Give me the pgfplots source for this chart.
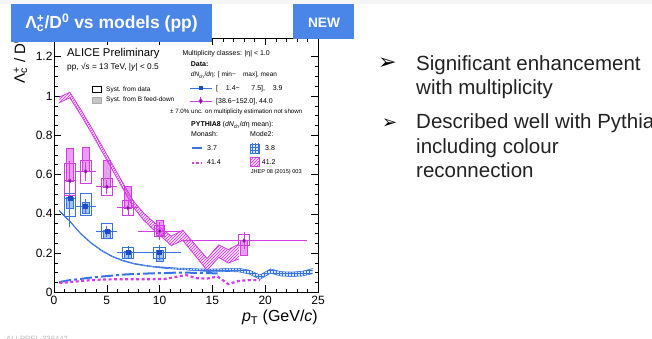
\documentclass[border=0pt]{standalone}
\usepackage{pgfplots}
\pgfplotsset{compat=1.18}
\usepackage{pgfplotstable}
\usepgfplotslibrary{fillbetween}
\usetikzlibrary{patterns}
\usepackage{fontspec}
\setmainfont{Liberation Sans}
\newfontfamily\dejavu{DejaVu Sans}
\newcommand{\fs}[1]{\fontsize{#1}{#1}\selectfont}

\definecolor{mag}{RGB}{212,60,232}
\definecolor{magdark}{RGB}{120,20,140}
\definecolor{blu}{RGB}{55,115,228}
\definecolor{bludark}{RGB}{30,75,200}
\definecolor{slideblue}{RGB}{74,134,232}
\definecolor{txt}{RGB}{34,34,34}

\pgfdeclareplotmark{blank}{}

% low multiplicity data: x, y, x-err minus/plus, stat, syst lo/hi, B-feed-down lo/hi, box half width
\pgfplotstableread{
x y xm xp st slo shi flo fhi sw
1.5 0.478 0.5 0.5 0.145 0.388 0.502 0.427 0.487 0.55
3 0.437 1 1 0.040 0.393 0.502 0.402 0.461 0.53
5 0.310 1 1 0.028 0.275 0.350 0.275 0.317 0.53
7 0.202 1 1 0.032 0.173 0.229 0.173 0.207 0.53
10 0.205 2 2 0.038 0.173 0.229 0.156 0.215 0.55
}\lowtab

\pgfplotstableread{
x y xm xp st slo shi flo fhi sw
1.5 0.568 0.5 0.5 0.100 0.495 0.656 0.568 0.733 0.55
3 0.616 1 1 0.050 0.555 0.673 0.616 0.741 0.53
5 0.537 1 1 0.035 0.495 0.580 0.537 0.673 0.53
7 0.430 1 1 0.040 0.393 0.466 0.430 0.540 0.53
10 0.312 2 2 0.045 0.283 0.342 0.292 0.368 0.5
18 0.263 6 6 0.042 0.237 0.297 0.190 0.266 0.55
}\hightab

% PYTHIA8 Mode2, 41.2 (centre, half width)
\pgfplotstableread{
x c h
0.5 0.980 0.014
1.5 1.005 0.014
2.5 0.920 0.014
3.5 0.830 0.014
4.5 0.735 0.014
5.5 0.640 0.014
6.5 0.545 0.015
7.5 0.450 0.016
8.5 0.385 0.018
9.5 0.335 0.020
10.5 0.290 0.022
11.1 0.262 0.024
12.2 0.290 0.026
14.5 0.142 0.030
15.6 0.210 0.032
16.5 0.183 0.034
17.5 0.208 0.038
}\magband

% PYTHIA8 Mode2, 3.8
\pgfplotstableread{
x c h
0.5 0.415 0.002
1.5 0.362 0.002
2.5 0.300 0.002
3.5 0.252 0.002
4.5 0.213 0.002
5.5 0.183 0.002
6.5 0.162 0.002
7.5 0.147 0.002
8.5 0.137 0.002
9.5 0.130 0.002
10.5 0.125 0.003
11.5 0.121 0.003
12.5 0.118 0.004
13.5 0.115 0.005
14.5 0.112 0.006
15.5 0.112 0.007
16.5 0.114 0.008
17.5 0.113 0.009
18.5 0.103 0.010
19.5 0.077 0.011
20.5 0.108 0.011
21.5 0.094 0.011
22.5 0.092 0.011
23.5 0.095 0.012
24.5 0.108 0.013
}\bluband

\begin{document}
\begin{tikzpicture}
\path (0pt,0pt) rectangle (652pt,339pt);
\fill[gray!7] (0pt,335pt) rectangle (652pt,339pt);

\begin{axis}[
  at={(54pt,46.7pt)}, anchor=south west,
  width=264pt, height=254pt, scale only axis,
  xmin=0, xmax=25, ymin=0, ymax=1.294,
  xtick={0,5,10,15,20,25},
  ytick={0,0.2,0.4,0.6,0.8,1,1.2},
  minor x tick num=4, minor y tick num=3,
  tick align=inside,
  major tick length=7pt, minor tick length=3.5pt,
  tick style={black, line width=0.5pt},
  axis line style={line width=0.7pt},
  ticklabel style={font=\fs{12}},
  /pgf/number format/assume math mode=true,
  yticklabel style={xshift=2pt},
  clip=true,
]
% Mode2 bands
\addplot[name path=mu, draw=mag, line width=0.8pt] table[x=x, y expr=\thisrow{c}+\thisrow{h}] {\magband};
\addplot[name path=ml, draw=mag, line width=0.8pt] table[x=x, y expr=\thisrow{c}-\thisrow{h}] {\magband};
\addplot[fill=mag!18, draw=none] fill between[of=mu and ml];
\addplot[pattern=north east lines, pattern color=mag, draw=none] fill between[of=mu and ml];
\addplot[name path=bu, draw=blu, line width=0.6pt] table[x=x, y expr=\thisrow{c}+\thisrow{h}] {\bluband};
\addplot[name path=bl, draw=blu, line width=0.6pt] table[x=x, y expr=\thisrow{c}-\thisrow{h}] {\bluband};
\addplot[fill=blu!18, draw=none] fill between[of=bu and bl];
\addplot[pattern=grid, pattern color=blu, draw=none] fill between[of=bu and bl];

% Monash lines
\addplot[blu, line width=2pt, dash pattern=on 12pt off 3pt on 3pt off 3pt] coordinates {
(0.5,0.052) (1.5,0.062) (2.5,0.068) (3.5,0.075) (4.5,0.080) (5.5,0.085) (6.5,0.090) (7.5,0.093)
(8.5,0.095) (9.5,0.097) (10.5,0.098) (11.5,0.100) (12.5,0.100) (13.5,0.099) (14.5,0.098) (15.5,0.096)};
\addplot[mag, line width=2.2pt, dash pattern=on 3pt off 2.5pt] coordinates {
(0.5,0.047) (1.5,0.052) (2.5,0.057) (3.5,0.062) (4.5,0.065) (5.5,0.066) (6.5,0.066) (7.5,0.066)
(8.5,0.066) (9.5,0.067) (10.5,0.068) (11.5,0.078) (12.5,0.088) (13.5,0.072) (14.5,0.070) (15.5,0.080)
(16.5,0.042) (17.5,0.058) (18.5,0.062) (19.5,0.062)};

% B feed-down filled boxes
\addplot[only marks, mark=blank, scatter,
  visualization depends on={\thisrow{flo}-\thisrow{y} \as \dlo},
  visualization depends on={\thisrow{fhi}-\thisrow{y} \as \dhi},
  scatter/@pre marker code/.code={\fill[blu, fill opacity=0.45] (axis direction cs:-0.33,\dlo) rectangle (axis direction cs:0.33,\dhi);},
  scatter/@post marker code/.code={}] table[x=x,y=y] {\lowtab};
\addplot[only marks, mark=blank, scatter,
  visualization depends on={\thisrow{flo}-\thisrow{y} \as \dlo},
  visualization depends on={\thisrow{fhi}-\thisrow{y} \as \dhi},
  scatter/@pre marker code/.code={\fill[mag, fill opacity=0.5] (axis direction cs:-0.33,\dlo) rectangle (axis direction cs:0.33,\dhi);},
  scatter/@post marker code/.code={}] table[x=x,y=y] {\hightab};

% syst. from data open boxes
\addplot[only marks, mark=blank, scatter,
  visualization depends on={\thisrow{slo}-\thisrow{y} \as \dlo},
  visualization depends on={\thisrow{shi}-\thisrow{y} \as \dhi},
  visualization depends on={\thisrow{sw} \as \hw},
  scatter/@pre marker code/.code={\draw[blu, line width=0.8pt] (axis direction cs:-\hw,\dlo) rectangle (axis direction cs:\hw,\dhi);},
  scatter/@post marker code/.code={}] table[x=x,y=y] {\lowtab};
\addplot[only marks, mark=blank, scatter,
  visualization depends on={\thisrow{slo}-\thisrow{y} \as \dlo},
  visualization depends on={\thisrow{shi}-\thisrow{y} \as \dhi},
  visualization depends on={\thisrow{sw} \as \hw},
  scatter/@pre marker code/.code={\draw[mag, line width=0.8pt] (axis direction cs:-\hw,\dlo) rectangle (axis direction cs:\hw,\dhi);},
  scatter/@post marker code/.code={}] table[x=x,y=y] {\hightab};

% points with stat. errors
\addplot[blu, only marks, mark=square*, mark size=2pt, mark options={fill=bludark, draw=bludark},
  error bars/.cd, x dir=both, x explicit, y dir=both, y explicit, error mark=none,
  error bar style={blu, line width=0.8pt}]
  table[x=x, y=y, x error minus=xm, x error plus=xp, y error=st] {\lowtab};
\addplot[mag, only marks, mark=diamond*, mark size=2.3pt, mark options={fill=magdark, draw=mag},
  error bars/.cd, x dir=both, x explicit, y dir=both, y explicit, error mark=none,
  error bar style={mag, line width=0.8pt}]
  table[x=x, y=y, x error minus=xm, x error plus=xp, y error=st] {\hightab};
\end{axis}

\begin{scope}[shift={(0pt,339pt)}, x=1pt, y=-1pt]
% axis titles
\node[anchor=base west, rotate=90, inner sep=0pt, font=\fs{15}] at (25,84) {Λ\rlap{\textsubscript{c}}\textsuperscript{+} / D\textsuperscript{0}};
\node[anchor=base east, inner sep=0pt, font=\fs{16}] at (318,322) {\textit{p}\textsubscript{T} (GeV/\textit{c})};

% left legend
\node[anchor=base west, inner sep=0pt, font=\fs{11.3}] at (67,57) {ALICE Preliminary};
\node[anchor=base west, inner sep=0pt, font=\fs{8.3}] at (67,69.3) {pp, √\textit{s} = 13 TeV, |\textit{y}| < 0.5};
\draw[black, line width=0.7pt] (92.7,86) rectangle (101,92.7);
\filldraw[fill=gray!45, draw=gray!65, line width=0.5pt] (92.7,97.3) rectangle (101,103.3);
\node[anchor=base west, inner sep=0pt, font=\fs{6.5}] at (106,92) {Syst. from data};
\node[anchor=base west, inner sep=0pt, font=\fs{6.5}] at (106,102) {Syst. from B feed-down};

% right legend
\node[anchor=base west, inner sep=0pt, font=\fs{7}] at (182.3,56) {Multiplicity classes: |η| < 1.0};
\node[anchor=base west, inner sep=0pt, font=\bfseries\fs{7}] at (190.7,66.7) {Data:};
\node[anchor=base west, inner sep=0pt, font=\fs{6.5}] at (190.7,77) {\textit{dN}\textsubscript{ch}/\textit{d}η: [ min−\hphantom{0}\hphantom{0}max], mean};
\draw[blu, line width=0.8pt] (190,88.3) -- (212,88.3);
\fill[bludark] (198.6,86.2) rectangle (202.8,90.4);
\node[anchor=base west, inner sep=0pt, font=\fs{7}] at (216,91) {[\hphantom{0}\hphantom{0}1.4−\hphantom{0}\hphantom{0}\hphantom{0}7.5],\hphantom{0}\hphantom{0}3.9};
\draw[mag, line width=0.8pt] (190,101) -- (212,101);
\draw[mag, line width=0.8pt] (200.7,97.5) -- (200.7,104.5);
\filldraw[fill=magdark, draw=mag, line width=0.4pt] (200.7,98.4) -- (202.6,101) -- (200.7,103.6) -- (198.8,101) -- cycle;
\node[anchor=base west, inner sep=0pt, font=\fs{7}] at (216,103.3) {[38.6−152.0], 44.0};
\node[anchor=base west, inner sep=0pt, font=\fs{6.2}] at (170,114) {± 7.0\% unc. on multiplicity estimation not shown};
\node[anchor=base west, inner sep=0pt, font=\fs{7}] at (191,127) {\textbf{PYTHIA8} (\textit{dN}\textsubscript{ch}/\textit{d}η mean):};
\node[anchor=base west, inner sep=0pt, font=\fs{7}] at (191,137) {Monash:};
\node[anchor=base west, inner sep=0pt, font=\fs{7}] at (250,137) {Mode2:};
\draw[blu, line width=1.8pt] (191.7,148.3) -- (201.7,148.3);
\node[anchor=base west, inner sep=0pt, font=\fs{7}] at (207,151) {3.7};
\draw[mag, line width=1.8pt, dash pattern=on 2.5pt off 2pt] (191.7,162.7) -- (201.7,162.7);
\node[anchor=base west, inner sep=0pt, font=\fs{7}] at (207,164.5) {41.4};
\filldraw[fill=blu!18, draw=blu, line width=0.6pt] (250,144) rectangle (259.3,153.3);
\draw[blu, line width=0.6pt, pattern=grid, pattern color=blu] (250,144) rectangle (259.3,153.3);
\node[anchor=base west, inner sep=0pt, font=\fs{7}] at (265,151) {3.8};
\filldraw[fill=mag!18, draw=mag, line width=0.6pt] (250,157.7) rectangle (259.3,166.7);
\draw[mag, line width=0.6pt, pattern=north east lines, pattern color=mag] (250,157.7) rectangle (259.3,166.7);
\node[anchor=base west, inner sep=0pt, font=\fs{7}] at (261.7,164.5) {41.2};
\node[anchor=base west, inner sep=0pt, font=\fs{5.6}] at (250.7,174) {JHEP 08 (2015) 003};

% slide title boxes
\fill[slideblue] (11,4) rectangle (212,42);
\node[anchor=base, inner sep=0pt, text=white, font=\bfseries\fs{17.5}] at (111.5,29) {Λ\rlap{\textsubscript{c}}\textsuperscript{+}/D\textsuperscript{0} vs models (pp)};
\fill[slideblue] (293,4) rectangle (354,39);
\node[anchor=base, inner sep=0pt, text=white, font=\bfseries\fs{13.7}] at (324,28) {NEW};

% bullets
\node[anchor=base west, inner sep=0pt, text=black, font=\dejavu\fs{22}] at (378,70) {➢};
\node[anchor=base west, inner sep=0pt, text=black, font=\dejavu\fs{18}] at (382,128.5) {➢};
\node[anchor=base west, inner sep=0pt, text=txt, font=\fs{20.5}] at (416,70.7) {Significant enhancement};
\node[anchor=base west, inner sep=0pt, text=txt, font=\fs{20.5}] at (416,94.3) {with multiplicity};
\node[overlay, anchor=base west, inner sep=0pt, text=txt, font=\fs{20.5}] at (416,129) {Described well with Pythia};
\node[anchor=base west, inner sep=0pt, text=txt, font=\fs{20.5}] at (416,154) {including colour};
\node[anchor=base west, inner sep=0pt, text=txt, font=\fs{20.5}] at (416,177.7) {reconnection};

% reference number
\node[overlay, anchor=base west, inner sep=0pt, text=gray!55, font=\fs{7.6}] at (6,341.5) {ALI-PREL-336442};
\end{scope}
\end{tikzpicture}
\end{document}
